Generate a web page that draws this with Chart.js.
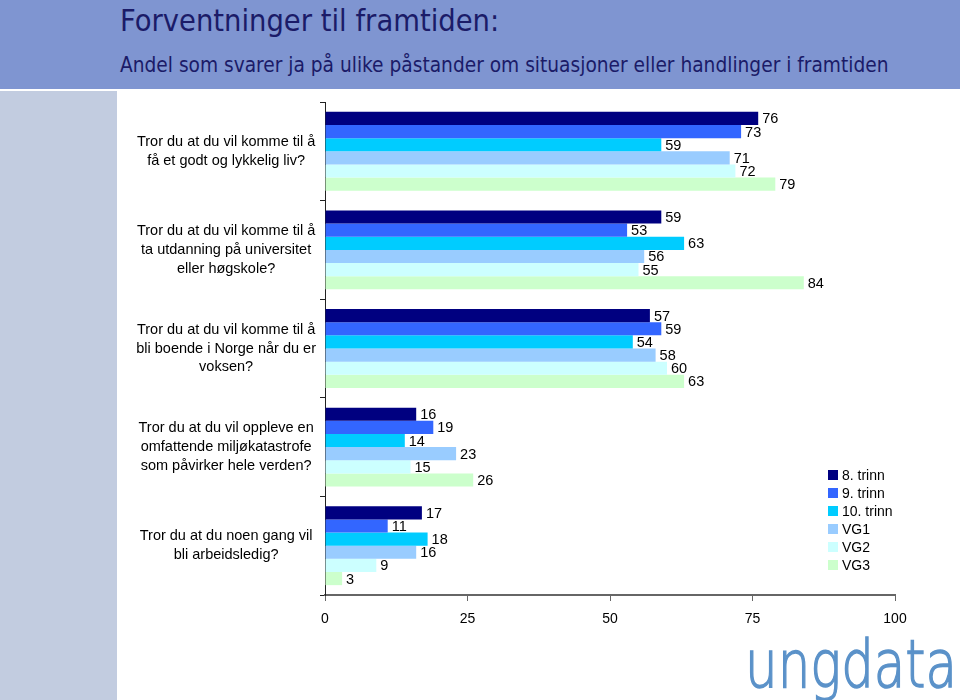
<!DOCTYPE html>
<html>
<head>
<meta charset="utf-8">
<script src="https://cdn.jsdelivr.net/npm/chart.js@4"></script>
<style>
  html, body { margin: 0; padding: 0; background: #fff; }
  body { width: 960px; height: 700px; position: relative; overflow: hidden; }
  .header { position: absolute; left: 0; top: 0; width: 960px; height: 89px; background: #7f95d1; }
  .title { position: absolute; left: 120px; top: 3px; font-family: "Liberation Sans Narrow", "DejaVu Sans Condensed", sans-serif; font-size: 30.5px; color: #1b1b68; white-space: nowrap; }
  .subtitle { position: absolute; left: 120px; top: 53px; font-family: "Liberation Sans Narrow", "DejaVu Sans Condensed", sans-serif; font-size: 20.7px; color: #1b1b68; white-space: nowrap; }
  .strip { position: absolute; left: 0; top: 91px; width: 117px; height: 609px; background: #c2cce0; }
  .canvas { position: absolute; left: 117px; top: 92px; }
  .logo { position: absolute; left: 745px; top: 632px; font-family: "DejaVu Sans", sans-serif; font-weight: 200; font-size: 66px; line-height: 66px; color: #5b92c9; -webkit-text-stroke: 1.5px #5b92c9; white-space: nowrap; transform: scaleX(0.78); transform-origin: left top; }
</style>
</head>
<body>
<div class="header">
  <div class="title">Forventninger til framtiden:</div>
  <div class="subtitle">Andel som svarer ja på ulike påstander om situasjoner eller handlinger i framtiden</div>
</div>
<div class="strip"></div>
<div class="canvas"><canvas id="futureChart" width="843" height="548"></canvas></div>
<div class="logo">ungdata</div>
<script>
const categories = [
  ['Tror du at du vil komme til å', 'få et godt og lykkelig liv?'],
  ['Tror du at du vil komme til å', 'ta utdanning på universitet', 'eller høgskole?'],
  ['Tror du at du vil komme til å', 'bli boende i Norge når du er', 'voksen?'],
  ['Tror du at du vil oppleve en', 'omfattende miljøkatastrofe', 'som påvirker hele verden?'],
  ['Tror du at du noen gang vil', 'bli arbeidsledig?']
];
const seriesNames = ['8. trinn', '9. trinn', '10. trinn', 'VG1', 'VG2', 'VG3'];
const trinn8 = [76, 59, 57, 16, 17];
const trinn9 = [73, 53, 59, 19, 11];
const trinn10 = [59, 63, 54, 14, 18];
const vg1 = [71, 56, 58, 23, 16];
const vg2 = [72, 55, 60, 15, 9];
const vg3 = [79, 84, 63, 26, 3];
const xTicks = [0, 25, 50, 75, 100];

const colors = ['#000080', '#3366ff', '#00ccff', '#99ccff', '#ccffff', '#ccffcc'];
const values = [trinn8, trinn9, trinn10, vg1, vg2, vg3];
const font = 'Liberation Sans, Arial, sans-serif';

// value labels at the end of each bar
const barLabels = {
  id: 'barLabels',
  afterDatasetsDraw(chart) {
    const ctx = chart.ctx;
    ctx.save();
    ctx.font = '14.5px ' + font;
    ctx.fillStyle = '#000';
    ctx.textAlign = 'left';
    ctx.textBaseline = 'middle';
    chart.data.datasets.forEach((ds, i) => {
      chart.getDatasetMeta(i).data.forEach((bar, j) => {
        ctx.fillText(String(ds.data[j]), bar.x + 4, bar.y + 1);
      });
    });
    ctx.restore();
  }
};

// legend in the lower right corner
const boxLegend = {
  id: 'boxLegend',
  afterDraw(chart) {
    const ctx = chart.ctx;
    ctx.save();
    ctx.font = '14px ' + font;
    ctx.textBaseline = 'middle';
    chart.data.datasets.forEach((ds, i) => {
      const y = 383 + i * 18;
      ctx.fillStyle = ds.backgroundColor;
      ctx.fillRect(711, y - 5, 10, 10);
      ctx.fillStyle = '#000';
      ctx.fillText(ds.label, 725, y + 1);
    });
    ctx.restore();
  }
};

new Chart(document.getElementById('futureChart').getContext('2d'), {
  type: 'bar',
  data: {
    labels: categories,
    datasets: seriesNames.map((name, i) => ({
      label: name,
      data: values[i],
      backgroundColor: colors[i],
      borderWidth: 0,
      categoryPercentage: 0.8,
      barPercentage: 1.0
    }))
  },
  options: {
    indexAxis: 'y',
    responsive: false,
    animation: false,
    devicePixelRatio: 1,
    layout: { padding: { top: 10, right: 65, bottom: 5, left: 0 } },
    plugins: {
      legend: { display: false },
      tooltip: { enabled: false }
    },
    scales: {
      x: {
        min: 0,
        max: 100,
        afterFit: (scale) => { scale.height = 40; scale.paddingLeft = 0; scale.paddingRight = 0; },
        afterBuildTicks: (scale) => { scale.ticks = xTicks.map(v => ({ value: v })); },
        grid: { drawOnChartArea: false, tickLength: 6, color: '#666' },
        border: { color: '#666', width: 2 },
        ticks: { padding: 10, color: '#000', font: { family: font, size: 14 } }
      },
      y: {
        offset: true,
        afterFit: (scale) => { scale.width = 208; scale.paddingTop = 0; scale.paddingBottom = 0; },
        grid: { offset: true, drawOnChartArea: false, tickLength: 5, color: '#222' },
        border: { color: '#222', width: 1 },
        ticks: { crossAlign: 'center', padding: 4, color: '#000', font: { family: font, size: 14.5, lineHeight: 1.3 } }
      }
    }
  },
  plugins: [barLabels, boxLegend]
});
</script>
</body>
</html>
